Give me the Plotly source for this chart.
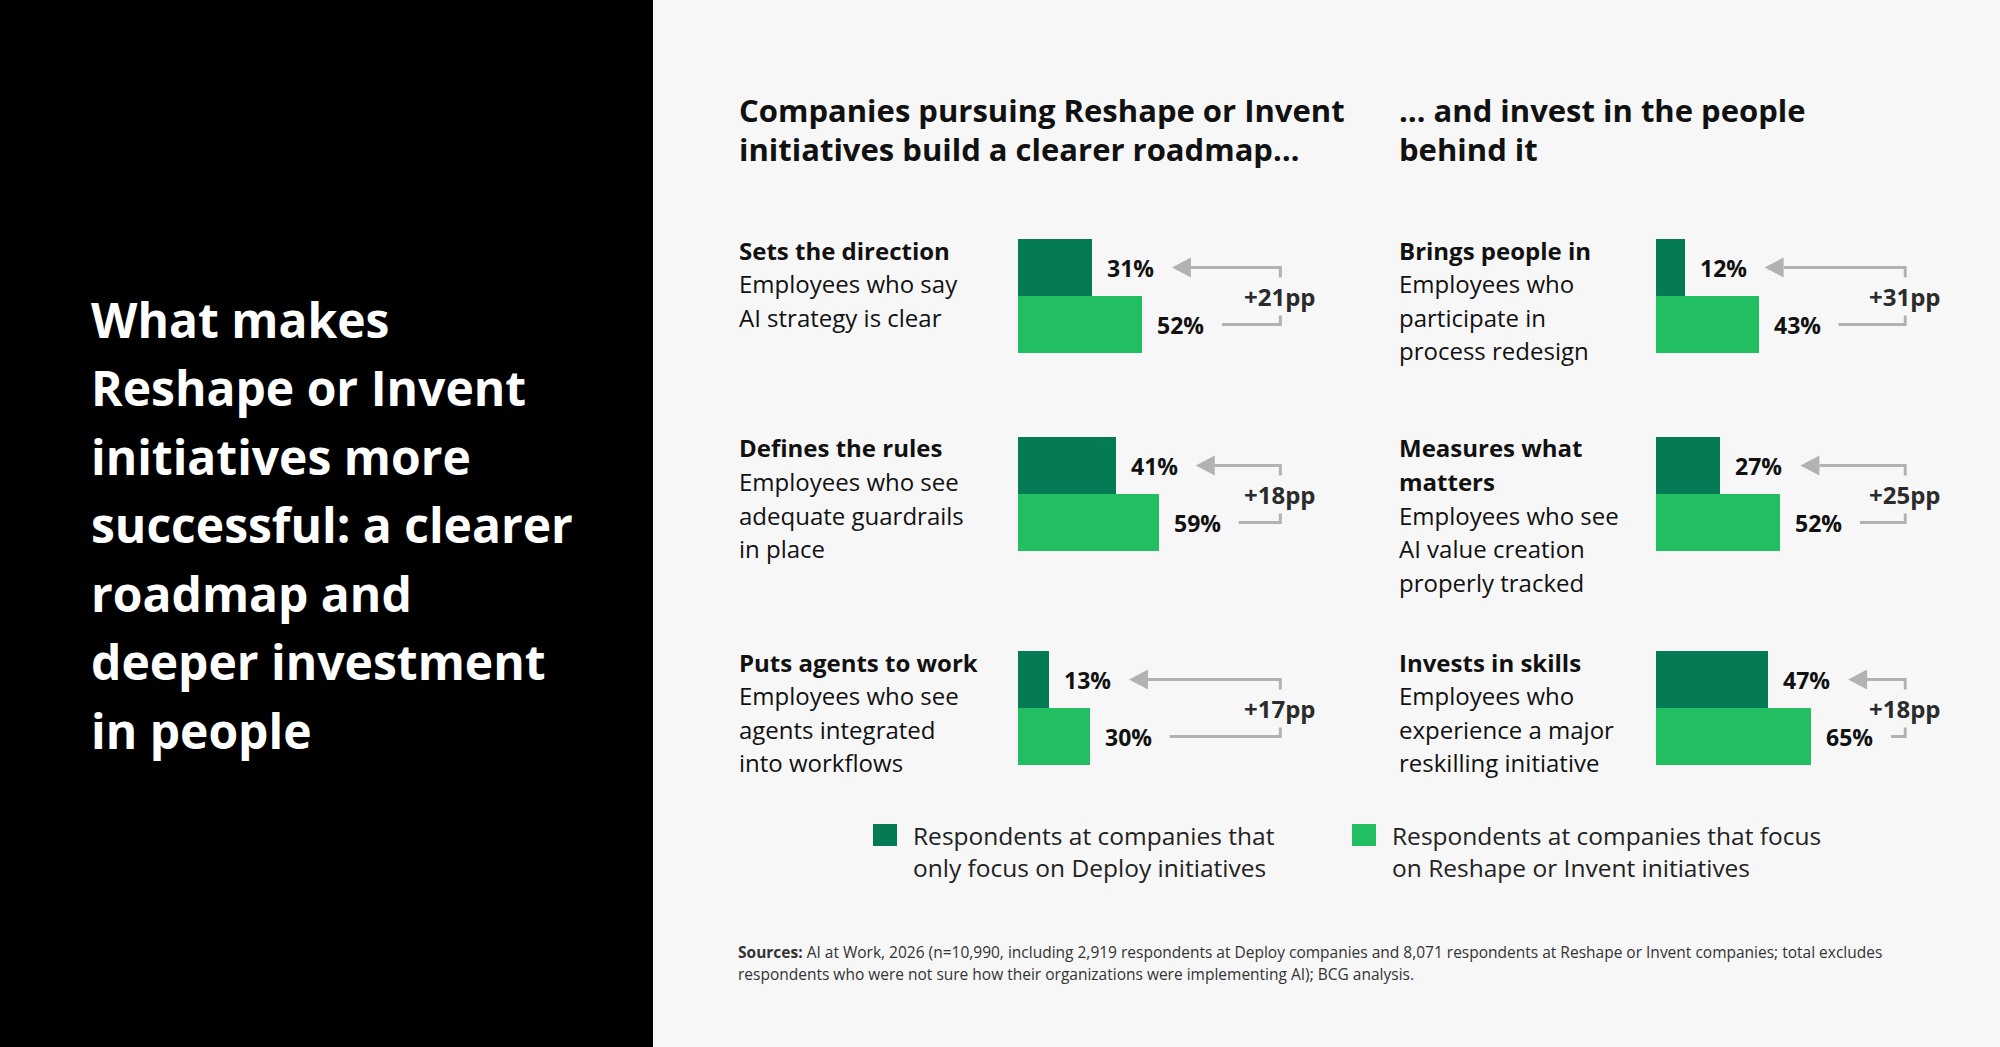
import plotly.graph_objects as go

# ---------------------------------------------------------------------------
# data
# ---------------------------------------------------------------------------
left_titles = [["Sets the direction"], ["Defines the rules"], ["Puts agents to work"]]
left_desc = [
    ["Employees who say", "AI strategy is clear"],
    ["Employees who see", "adequate guardrails", "in place"],
    ["Employees who see", "agents integrated", "into workflows"],
]
left_deploy = [31, 41, 13]
left_reshape = [52, 59, 30]
left_gap = [21, 18, 17]

right_titles = [["Brings people in"], ["Measures what", "matters"], ["Invests in skills"]]
right_desc = [
    ["Employees who", "participate in", "process redesign"],
    ["Employees who see", "AI value creation", "properly tracked"],
    ["Employees who", "experience a major", "reskilling initiative"],
]
right_deploy = [12, 27, 47]
right_reshape = [43, 52, 65]
right_gap = [31, 25, 18]

main_title = ["What makes", "Reshape or Invent", "initiatives more", "successful: a clearer",
              "roadmap and", "deeper investment", "in people"]
left_heading = ["Companies pursuing Reshape or Invent", "initiatives build a clearer roadmap\u2026"]
right_heading = ["\u2026 and invest in the people", "behind it"]
legend_deploy = ["Respondents at companies that", "only focus on Deploy initiatives"]
legend_reshape = ["Respondents at companies that focus", "on Reshape or Invent initiatives"]
sources = [
    "<b>Sources:</b> AI at Work, 2026 (n=10,990, including 2,919 respondents at Deploy companies "
    "and 8,071 respondents at Reshape or Invent companies; total excludes",
    "respondents who were not sure how their organizations were implementing AI); BCG analysis.",
]

# ---------------------------------------------------------------------------
# layout constants (pixels)
# ---------------------------------------------------------------------------
W, H = 2000, 1047
DARK = "#047a55"
LIGHT = "#21bf61"
GREY = "#b2b2b2"
BG = "#f7f7f7"
FONT = "Open Sans"

SCALE = 2.385          # px per percentage point
XMAX = 130             # axis range in pct
ROW_TOP = [239, 437, 651]
ROW_H = 114
COL_TEXT_X = [737, 1397]
COL_BAR_X = [1018, 1656]
BRACKET_X = [110, 104.5]   # in pct units
OFFSET = 80 / SCALE        # label gap before arrow / line

fig = go.Figure()
annotations = []
shapes = []


def px_y(p):
    return 1 - p / H


def text(x, y, s, size, color="#111111", bold=False, anchor="left"):
    annotations.append(dict(
        x=x / W, y=px_y(y), xref="paper", yref="paper", text=f"<b>{s}</b>" if bold else s,
        showarrow=False, xanchor=anchor, yanchor="middle",
        font=dict(family=FONT, size=size, color=color)))


# black side panel
shapes.append(dict(type="rect", xref="paper", yref="paper", x0=0, x1=653 / W, y0=0, y1=1,
                   fillcolor="black", line_width=0, layer="below"))

for i, line in enumerate(main_title):
    text(89, 319 + i * 68.5, line, 48, color="white", bold=True)

for i, line in enumerate(left_heading):
    text(COL_TEXT_X[0], 110 + i * 39.5, line, 31, bold=True)
for i, line in enumerate(right_heading):
    text(COL_TEXT_X[1], 110 + i * 39.5, line, 31, bold=True)

columns = [
    (left_titles, left_desc, left_deploy, left_reshape, left_gap),
    (right_titles, right_desc, right_deploy, right_reshape, right_gap),
]

layout_axes = {}
n = 0
for c, (titles, descs, dep, res, gap) in enumerate(columns):
    for r in range(3):
        n += 1
        xa = "x" if n == 1 else f"x{n}"
        ya = "y" if n == 1 else f"y{n}"
        top = ROW_TOP[r]
        x0 = COL_BAR_X[c]
        layout_axes["xaxis" if n == 1 else f"xaxis{n}"] = dict(
            domain=[x0 / W, (x0 + XMAX * SCALE) / W], range=[0, XMAX], visible=False, fixedrange=True)
        layout_axes["yaxis" if n == 1 else f"yaxis{n}"] = dict(
            domain=[px_y(top + ROW_H), px_y(top)], range=[-0.5, 1.5], visible=False, fixedrange=True)

        fig.add_trace(go.Bar(
            x=[dep[r], res[r]], y=[1, 0], orientation="h", width=1,
            marker=dict(color=[DARK, LIGHT], line_width=0),
            xaxis=xa, yaxis=ya, showlegend=False, hoverinfo="skip"))

        # value labels
        for val, yy in ((dep[r], 1), (res[r], 0)):
            annotations.append(dict(
                x=val, y=yy, xref=xa, yref=ya, text=f"<b>{val}%</b>", showarrow=False,
                xanchor="left", yanchor="middle", xshift=13,
                font=dict(family=FONT, size=23, color="#111111")))

        bx = BRACKET_X[c]
        # lower line + bracket + arrow shaft
        shapes.append(dict(
            type="path", xref=xa, yref=ya, line=dict(color=GREY, width=3),
            path=f"M {res[r] + OFFSET} 0 L {bx} 0 L {bx} 1 L {dep[r] + OFFSET + 19 / SCALE} 1"))
        # arrow head
        shapes.append(dict(
            type="path", xref=xa, yref=ya, xsizemode="pixel", ysizemode="pixel",
            xanchor=dep[r] + OFFSET, yanchor=1, fillcolor=GREY, line_width=0,
            path="M 0 0 L 19 10 L 19 -10 Z"))
        # difference label
        annotations.append(dict(
            x=bx, y=0.5, xref=xa, yref=ya, text=f"<b>+{gap[r]}pp</b>", showarrow=False,
            xanchor="center", yanchor="middle", bgcolor=BG, borderpad=2,
            font=dict(family=FONT, size=24, color="#2b2b2b")))

        # row text
        lines = [(t, True) for t in titles[r]] + [(d, False) for d in descs[r]]
        for k, (s, b) in enumerate(lines):
            text(COL_TEXT_X[c], top + 11 + k * 33.5, s, 24, color="#111111", bold=b)

# legend
for sx, col, lines, tx in ((873, DARK, legend_deploy, 911), (1352, LIGHT, legend_reshape, 1390)):
    shapes.append(dict(type="rect", xref="paper", yref="paper", x0=sx / W, x1=(sx + 24) / W,
                       y0=px_y(846), y1=px_y(824), fillcolor=col, line_width=0))
    for k, s in enumerate(lines):
        text(tx, 835 + k * 32, s, 24.5, color="#222222")

for k, s in enumerate(sources):
    text(736, 952 + k * 22, s, 15.5, color="#333333")

fig.update_layout(
    width=W, height=H, margin=dict(l=0, r=0, t=0, b=0),
    paper_bgcolor=BG, plot_bgcolor="rgba(0,0,0,0)",
    bargap=0, showlegend=False,
    annotations=annotations, shapes=shapes,
    **layout_axes,
)

fig.write_html("out.html", config={"displayModeBar": False},
               post_script="document.body.style.margin='0';document.body.style.overflow='hidden';")
